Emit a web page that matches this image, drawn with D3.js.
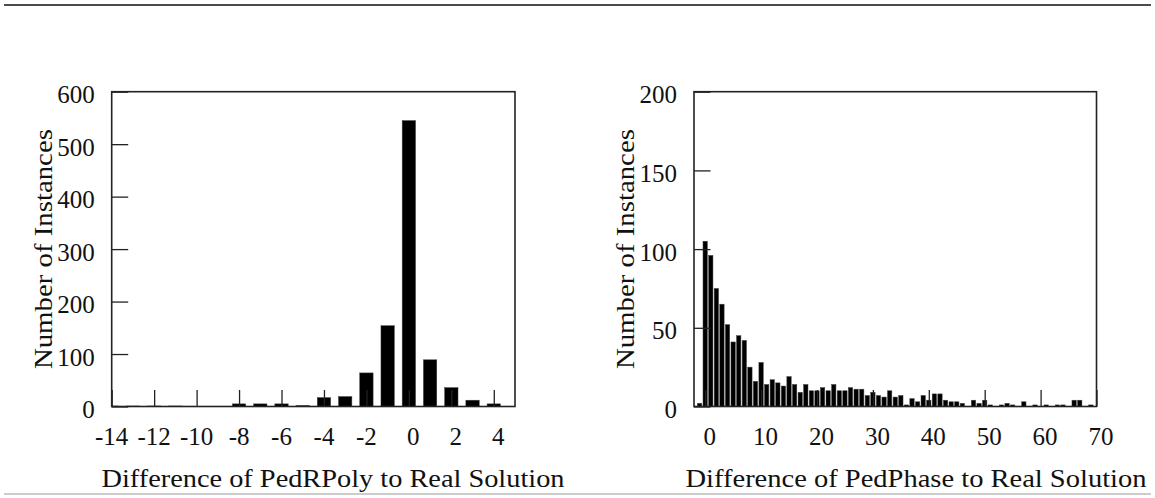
<!DOCTYPE html>
<html><head><meta charset="utf-8">
<script src="https://cdn.jsdelivr.net/npm/d3@7/dist/d3.min.js"></script>
<style>
body{margin:0;background:#fff}
svg{display:block}
text{font-family:"Liberation Serif","Times New Roman",serif;fill:#111}
</style>
</head><body>
<svg id="c" width="1155" height="498"></svg>
<script>
// ---- data: left histogram (PedRPoly) ----
const leftBins   = [-14,-13,-12,-11,-8,-7,-6,-5,-4,-3,-2,-1,0,1,2,3,4];
const leftCounts = [1,1,1,1,5,5,5,2,17,19,64,154,545,89,36,12,5];
const leftXTicks = [-14,-12,-10,-8,-6,-4,-2,0,2,4];
const leftYTicks = [0,100,200,300,400,500,600];
const leftXTitle = "Difference of PedRPoly to Real Solution";

// ---- data: right histogram (PedPhase) ----
const rightBins   = [-1,0,1,2,3,4,5,6,7,8,9,10,11,12,13,14,15,16,17,18,19,20,21,22,23,24,25,26,27,28,29,30,31,32,33,34,35,36,37,38,39,40,41,42,43,44,45,46,48,49,50,51,53,54,55,57,59,61,63,64,66,67,69];
const rightCounts = [2,105,96,75,65,52,41,45,42,25,16,28,14,17,15,13,19,14,9,14,10,10,12,10,14,10,10,12,11,11,7,9,7,6,10,6,7,1,5,3,7,4,8,8,4,3,3,2,4,2,4,1,1,2,1,3,1,1,1,1,4,4,1];
const rightXTicks = [0,10,20,30,40,50,60,70];
const rightYTicks = [0,50,100,150,200];
const rightXTitle = "Difference of PedPhase to Real Solution";

const yTitle = "Number of Instances";

const svg = d3.select("#c");
const FS = 25;

// rules
svg.append("line").attr("x1",4).attr("x2",1151).attr("y1",5).attr("y2",5)
  .attr("stroke","#111").attr("stroke-width",1.6);
svg.append("line").attr("x1",4).attr("x2",1151).attr("y1",494).attr("y2",494)
  .attr("stroke","#999").attr("stroke-width",1);

function panel(cfg){
  const {id,x0,x1,y0,y1,xDom,yDom,bins,counts,xTicks,yTicks,barW,xTitle,xTitleC,xTitleLen,yTitleX} = cfg;
  const x = d3.scaleLinear().domain(xDom).range([x0,x1]);
  const y = d3.scaleLinear().domain(yDom).range([y1,y0]);
  const g = svg.append("g");
  g.append("clipPath").attr("id",id).append("rect")
    .attr("x",x0).attr("y",y0).attr("width",x1-x0).attr("height",y1-y0);
  const data = bins.map((b,i)=>({b, v:counts[i]}));
  g.append("g").attr("clip-path",`url(#${id})`).selectAll("rect").data(data).join("rect")
    .attr("x",d=>x(d.b-barW/2))
    .attr("width",d=>x(d.b+barW/2)-x(d.b-barW/2))
    .attr("y",d=>y(d.v))
    .attr("height",d=>Math.max(0.8,y(0)-y(d.v)))
    .attr("fill","#000")
    .attr("stroke","#444").attr("stroke-width",0.5);

  // y axis (inward ticks)
  const ya = g.append("g").attr("transform",`translate(${x0},0)`)
    .call(d3.axisLeft(y).tickValues(yTicks).tickSizeInner(-16.5).tickSizeOuter(0).tickPadding(17).tickFormat(d3.format("d")));
  ya.select(".domain").remove();
  ya.selectAll("line").attr("stroke","#222").attr("stroke-width",1.3);
  ya.selectAll("text").attr("font-size",FS).attr("fill","#111").attr("y",3)
    .style("font-family",'"Liberation Serif","Times New Roman",serif');

  // x axis (inward ticks)
  const xa = g.append("g").attr("transform",`translate(0,${y1})`)
    .call(d3.axisBottom(x).tickValues(xTicks).tickSizeInner(-16.5).tickSizeOuter(0).tickPadding(21).tickFormat(d=>d<0?"-"+Math.abs(d):String(d)));
  xa.select(".domain").remove();
  xa.selectAll("line").attr("stroke","#222").attr("stroke-width",1.3);
  xa.selectAll("text").attr("font-size",FS).attr("fill","#111")
    .attr("x",d=>d<0?-0.5:4)
    .style("font-family",'"Liberation Serif","Times New Roman",serif');

  // frame
  g.append("rect").attr("x",x0).attr("y",y0).attr("width",x1-x0).attr("height",y1-y0)
    .attr("fill","none").attr("stroke","#222").attr("stroke-width",1.6);

  // titles
  g.append("text").attr("x",xTitleC).attr("y",487).attr("text-anchor","middle")
    .attr("font-size",FS).attr("textLength",xTitleLen).attr("lengthAdjust","spacingAndGlyphs")
    .text(xTitle);
  g.append("text").attr("transform",`translate(${yTitleX},${(y0+y1)/2}) rotate(-90)`)
    .attr("text-anchor","middle").attr("font-size",FS)
    .attr("textLength",240).attr("lengthAdjust","spacingAndGlyphs")
    .text(yTitle);
}

panel({id:"cl",x0:111.7,x1:515,y0:91.7,y1:406.5,xDom:[-14,5],yDom:[0,600],
  bins:leftBins,counts:leftCounts,xTicks:leftXTicks,yTicks:leftYTicks,barW:0.63,
  xTitle:leftXTitle,xTitleC:333,xTitleLen:463,yTitleX:52});
panel({id:"cr",x0:694,x1:1096.5,y0:91.7,y1:406.5,xDom:[-2,70],yDom:[0,200],
  bins:rightBins,counts:rightCounts,xTicks:rightXTicks,yTicks:rightYTicks,barW:0.78,
  xTitle:rightXTitle,xTitleC:916,xTitleLen:461,yTitleX:634});
</script>
</body></html>
